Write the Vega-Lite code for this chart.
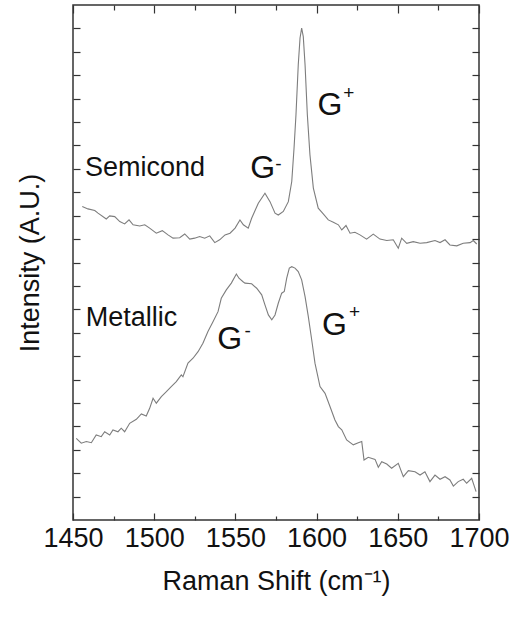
{
  "$schema": "https://vega.github.io/schema/vega-lite/v6.json",
  "width": 406,
  "height": 515,
  "autosize": "none",
  "padding": {"left": 73, "top": 5, "right": 34, "bottom": 98},
  "background": "white",
  "config": {
    "view": {"stroke": "#333333", "strokeWidth": 1.5},
    "axis": {
      "domain": false,
      "grid": false,
      "tickColor": "#333333",
      "tickWidth": 1.2,
      "labelFont": "Liberation Sans",
      "titleFont": "Liberation Sans",
      "labelColor": "#111111",
      "titleColor": "#111111",
      "titleFontWeight": "normal",
      "labelFlush": false,
      "labelOverlap": false
    },
    "text": {"font": "Liberation Sans", "color": "#111111"}
  },
  "datasets": {
    "spectra": [
      {"series": "Semicond", "shift": 1455.7, "intensity": 13.39},
      {"series": "Semicond", "shift": 1459.2, "intensity": 13.29},
      {"series": "Semicond", "shift": 1463.4, "intensity": 13.22},
      {"series": "Semicond", "shift": 1465.4, "intensity": 13.11},
      {"series": "Semicond", "shift": 1470.5, "intensity": 12.86},
      {"series": "Semicond", "shift": 1472.6, "intensity": 12.99},
      {"series": "Semicond", "shift": 1475.7, "intensity": 12.96},
      {"series": "Semicond", "shift": 1478.8, "intensity": 12.75},
      {"series": "Semicond", "shift": 1481.8, "intensity": 12.65},
      {"series": "Semicond", "shift": 1484.5, "intensity": 12.82},
      {"series": "Semicond", "shift": 1487.0, "intensity": 12.61},
      {"series": "Semicond", "shift": 1491.1, "intensity": 12.56},
      {"series": "Semicond", "shift": 1494.2, "intensity": 12.61},
      {"series": "Semicond", "shift": 1497.2, "intensity": 12.47},
      {"series": "Semicond", "shift": 1501.3, "intensity": 12.25},
      {"series": "Semicond", "shift": 1505.0, "intensity": 12.36},
      {"series": "Semicond", "shift": 1508.5, "intensity": 12.18},
      {"series": "Semicond", "shift": 1511.6, "intensity": 12.04},
      {"series": "Semicond", "shift": 1515.7, "intensity": 12.06},
      {"series": "Semicond", "shift": 1518.8, "intensity": 12.22},
      {"series": "Semicond", "shift": 1521.9, "intensity": 12.0},
      {"series": "Semicond", "shift": 1524.9, "intensity": 12.04},
      {"series": "Semicond", "shift": 1528.0, "intensity": 12.11},
      {"series": "Semicond", "shift": 1531.1, "intensity": 12.04},
      {"series": "Semicond", "shift": 1534.2, "intensity": 12.14},
      {"series": "Semicond", "shift": 1537.3, "intensity": 11.85},
      {"series": "Semicond", "shift": 1540.3, "intensity": 11.97},
      {"series": "Semicond", "shift": 1543.6, "intensity": 12.18},
      {"series": "Semicond", "shift": 1546.7, "intensity": 12.25},
      {"series": "Semicond", "shift": 1549.8, "intensity": 12.47},
      {"series": "Semicond", "shift": 1552.8, "intensity": 12.82},
      {"series": "Semicond", "shift": 1554.9, "intensity": 12.61},
      {"series": "Semicond", "shift": 1557.9, "intensity": 12.47},
      {"series": "Semicond", "shift": 1560.0, "intensity": 12.89},
      {"series": "Semicond", "shift": 1564.1, "intensity": 13.53},
      {"series": "Semicond", "shift": 1568.2, "intensity": 13.96},
      {"series": "Semicond", "shift": 1571.3, "intensity": 13.6},
      {"series": "Semicond", "shift": 1574.4, "intensity": 13.11},
      {"series": "Semicond", "shift": 1576.4, "intensity": 13.03},
      {"series": "Semicond", "shift": 1579.5, "intensity": 13.18},
      {"series": "Semicond", "shift": 1582.6, "intensity": 13.6},
      {"series": "Semicond", "shift": 1584.7, "intensity": 14.46},
      {"series": "Semicond", "shift": 1586.1, "intensity": 15.88},
      {"series": "Semicond", "shift": 1587.3, "intensity": 17.31},
      {"series": "Semicond", "shift": 1588.7, "intensity": 19.44},
      {"series": "Semicond", "shift": 1589.8, "intensity": 20.59},
      {"series": "Semicond", "shift": 1590.8, "intensity": 21.01},
      {"series": "Semicond", "shift": 1591.8, "intensity": 20.65},
      {"series": "Semicond", "shift": 1592.9, "intensity": 19.44},
      {"series": "Semicond", "shift": 1594.3, "intensity": 17.31},
      {"series": "Semicond", "shift": 1595.9, "intensity": 15.6},
      {"series": "Semicond", "shift": 1598.0, "intensity": 14.18},
      {"series": "Semicond", "shift": 1601.0, "intensity": 13.32},
      {"series": "Semicond", "shift": 1604.1, "intensity": 13.08},
      {"series": "Semicond", "shift": 1607.2, "intensity": 12.82},
      {"series": "Semicond", "shift": 1610.3, "intensity": 12.72},
      {"series": "Semicond", "shift": 1613.4, "intensity": 12.61},
      {"series": "Semicond", "shift": 1615.5, "intensity": 12.39},
      {"series": "Semicond", "shift": 1618.1, "intensity": 12.58},
      {"series": "Semicond", "shift": 1620.6, "intensity": 12.25},
      {"series": "Semicond", "shift": 1623.6, "intensity": 12.29},
      {"series": "Semicond", "shift": 1626.7, "intensity": 12.18},
      {"series": "Semicond", "shift": 1630.8, "intensity": 12.0},
      {"series": "Semicond", "shift": 1634.9, "intensity": 12.21},
      {"series": "Semicond", "shift": 1639.0, "intensity": 12.0},
      {"series": "Semicond", "shift": 1643.2, "intensity": 11.94},
      {"series": "Semicond", "shift": 1647.2, "intensity": 11.97},
      {"series": "Semicond", "shift": 1650.3, "intensity": 11.61},
      {"series": "Semicond", "shift": 1652.4, "intensity": 12.04},
      {"series": "Semicond", "shift": 1655.5, "intensity": 11.82},
      {"series": "Semicond", "shift": 1659.5, "intensity": 11.89},
      {"series": "Semicond", "shift": 1663.7, "intensity": 11.82},
      {"series": "Semicond", "shift": 1667.8, "intensity": 11.85},
      {"series": "Semicond", "shift": 1672.9, "intensity": 11.94},
      {"series": "Semicond", "shift": 1676.0, "intensity": 11.85},
      {"series": "Semicond", "shift": 1679.1, "intensity": 11.97},
      {"series": "Semicond", "shift": 1682.1, "intensity": 11.75},
      {"series": "Semicond", "shift": 1686.3, "intensity": 11.71},
      {"series": "Semicond", "shift": 1690.3, "intensity": 11.82},
      {"series": "Semicond", "shift": 1694.5, "intensity": 11.85},
      {"series": "Semicond", "shift": 1696.5, "intensity": 11.94},
      {"series": "Semicond", "shift": 1698.6, "intensity": 11.79},
      {"series": "Metallic", "shift": 1452.0, "intensity": 3.49},
      {"series": "Metallic", "shift": 1455.1, "intensity": 3.28},
      {"series": "Metallic", "shift": 1458.2, "intensity": 3.35},
      {"series": "Metallic", "shift": 1461.3, "intensity": 3.30},
      {"series": "Metallic", "shift": 1464.3, "intensity": 3.63},
      {"series": "Metallic", "shift": 1467.4, "intensity": 3.56},
      {"series": "Metallic", "shift": 1469.5, "intensity": 3.77},
      {"series": "Metallic", "shift": 1472.6, "intensity": 3.63},
      {"series": "Metallic", "shift": 1474.6, "intensity": 3.85},
      {"series": "Metallic", "shift": 1477.7, "intensity": 3.77},
      {"series": "Metallic", "shift": 1479.7, "intensity": 3.92},
      {"series": "Metallic", "shift": 1481.8, "intensity": 3.77},
      {"series": "Metallic", "shift": 1484.9, "intensity": 4.13},
      {"series": "Metallic", "shift": 1489.0, "intensity": 4.30},
      {"series": "Metallic", "shift": 1492.1, "intensity": 4.53},
      {"series": "Metallic", "shift": 1495.1, "intensity": 4.44},
      {"series": "Metallic", "shift": 1497.2, "intensity": 4.77},
      {"series": "Metallic", "shift": 1499.3, "intensity": 5.2},
      {"series": "Metallic", "shift": 1501.3, "intensity": 4.99},
      {"series": "Metallic", "shift": 1504.4, "intensity": 5.27},
      {"series": "Metallic", "shift": 1507.5, "intensity": 5.48},
      {"series": "Metallic", "shift": 1510.5, "intensity": 5.70},
      {"series": "Metallic", "shift": 1513.6, "intensity": 5.91},
      {"series": "Metallic", "shift": 1516.7, "intensity": 6.2},
      {"series": "Metallic", "shift": 1517.7, "intensity": 6.12},
      {"series": "Metallic", "shift": 1520.8, "intensity": 6.70},
      {"series": "Metallic", "shift": 1523.9, "intensity": 6.91},
      {"series": "Metallic", "shift": 1527.0, "intensity": 7.19},
      {"series": "Metallic", "shift": 1530.0, "intensity": 7.55},
      {"series": "Metallic", "shift": 1533.1, "intensity": 8.05},
      {"series": "Metallic", "shift": 1536.2, "intensity": 8.47},
      {"series": "Metallic", "shift": 1539.3, "intensity": 8.90},
      {"series": "Metallic", "shift": 1541.3, "intensity": 9.47},
      {"series": "Metallic", "shift": 1544.4, "intensity": 9.83},
      {"series": "Metallic", "shift": 1547.5, "intensity": 10.12},
      {"series": "Metallic", "shift": 1550.6, "intensity": 10.51},
      {"series": "Metallic", "shift": 1552.2, "intensity": 10.33},
      {"series": "Metallic", "shift": 1554.7, "intensity": 10.18},
      {"series": "Metallic", "shift": 1555.9, "intensity": 10.12},
      {"series": "Metallic", "shift": 1560.0, "intensity": 10.09},
      {"series": "Metallic", "shift": 1563.1, "intensity": 9.90},
      {"series": "Metallic", "shift": 1566.2, "intensity": 9.62},
      {"series": "Metallic", "shift": 1568.2, "intensity": 9.19},
      {"series": "Metallic", "shift": 1570.3, "intensity": 8.76},
      {"series": "Metallic", "shift": 1572.4, "intensity": 8.55},
      {"series": "Metallic", "shift": 1574.4, "intensity": 8.76},
      {"series": "Metallic", "shift": 1576.4, "intensity": 9.26},
      {"series": "Metallic", "shift": 1578.5, "intensity": 9.69},
      {"series": "Metallic", "shift": 1580.1, "intensity": 9.76},
      {"series": "Metallic", "shift": 1581.6, "intensity": 10.33},
      {"series": "Metallic", "shift": 1583.2, "intensity": 10.76},
      {"series": "Metallic", "shift": 1584.7, "intensity": 10.82},
      {"series": "Metallic", "shift": 1586.7, "intensity": 10.76},
      {"series": "Metallic", "shift": 1588.7, "intensity": 10.61},
      {"series": "Metallic", "shift": 1590.8, "intensity": 10.26},
      {"series": "Metallic", "shift": 1592.9, "intensity": 9.54},
      {"series": "Metallic", "shift": 1594.9, "intensity": 8.69},
      {"series": "Metallic", "shift": 1597.0, "intensity": 7.69},
      {"series": "Metallic", "shift": 1599.0, "intensity": 6.70},
      {"series": "Metallic", "shift": 1602.1, "intensity": 5.70},
      {"series": "Metallic", "shift": 1605.2, "intensity": 5.41},
      {"series": "Metallic", "shift": 1608.3, "intensity": 4.84},
      {"series": "Metallic", "shift": 1611.3, "intensity": 4.27},
      {"series": "Metallic", "shift": 1613.4, "intensity": 3.99},
      {"series": "Metallic", "shift": 1615.5, "intensity": 3.85},
      {"series": "Metallic", "shift": 1618.5, "intensity": 3.42},
      {"series": "Metallic", "shift": 1622.6, "intensity": 3.21},
      {"series": "Metallic", "shift": 1625.7, "intensity": 3.30},
      {"series": "Metallic", "shift": 1627.8, "intensity": 3.35},
      {"series": "Metallic", "shift": 1629.2, "intensity": 2.56},
      {"series": "Metallic", "shift": 1631.8, "intensity": 2.68},
      {"series": "Metallic", "shift": 1636.0, "intensity": 2.59},
      {"series": "Metallic", "shift": 1638.0, "intensity": 2.25},
      {"series": "Metallic", "shift": 1640.1, "intensity": 2.49},
      {"series": "Metallic", "shift": 1643.2, "intensity": 2.39},
      {"series": "Metallic", "shift": 1646.2, "intensity": 2.21},
      {"series": "Metallic", "shift": 1650.3, "intensity": 2.42},
      {"series": "Metallic", "shift": 1653.4, "intensity": 1.85},
      {"series": "Metallic", "shift": 1656.5, "intensity": 2.11},
      {"series": "Metallic", "shift": 1660.6, "intensity": 2.06},
      {"series": "Metallic", "shift": 1663.7, "intensity": 1.92},
      {"series": "Metallic", "shift": 1666.7, "intensity": 2.06},
      {"series": "Metallic", "shift": 1669.8, "intensity": 1.64},
      {"series": "Metallic", "shift": 1672.9, "intensity": 1.92},
      {"series": "Metallic", "shift": 1676.0, "intensity": 1.74},
      {"series": "Metallic", "shift": 1679.1, "intensity": 1.85},
      {"series": "Metallic", "shift": 1682.1, "intensity": 1.71},
      {"series": "Metallic", "shift": 1684.2, "intensity": 1.45},
      {"series": "Metallic", "shift": 1687.2, "intensity": 1.64},
      {"series": "Metallic", "shift": 1690.3, "intensity": 1.74},
      {"series": "Metallic", "shift": 1692.4, "intensity": 1.57},
      {"series": "Metallic", "shift": 1695.5, "intensity": 1.78},
      {"series": "Metallic", "shift": 1698.2, "intensity": 1.21}
    ],
    "labels": [
      {"text": "Semicond", "kind": "name", "shift": 1457.4, "intensity": 14.70},
      {"text": "Metallic", "kind": "name", "shift": 1457.8, "intensity": 8.30},
      {"text": "G", "kind": "peak", "shift": 1559.2, "intensity": 14.60},
      {"text": "G", "kind": "peak", "shift": 1600.5, "intensity": 17.31},
      {"text": "G", "kind": "peak", "shift": 1538.9, "intensity": 7.31},
      {"text": "G", "kind": "peak", "shift": 1603.4, "intensity": 7.91},
      {"text": "-", "kind": "sup", "shift": 1574.6, "intensity": 14.96},
      {"text": "+", "kind": "sup", "shift": 1616.4, "intensity": 17.99},
      {"text": "-", "kind": "sup", "shift": 1555.6, "intensity": 7.82},
      {"text": "+", "kind": "sup", "shift": 1620.0, "intensity": 8.63}
    ]
  },
  "resolve": {"axis": {"x": "independent", "y": "independent"}},
  "layer": [
    {
      "data": {"name": "spectra"},
      "mark": {"type": "line", "color": "#7d7d7d", "strokeWidth": 1.1},
      "encoding": {
        "x": {
          "field": "shift", "type": "quantitative",
          "scale": {"domain": [1450, 1700], "nice": false, "zero": false},
          "axis": {
            "orient": "bottom",
            "values": [1450, 1500, 1550, 1600, 1650, 1700],
            "format": "d",
            "tickSize": -7,
            "labelFontSize": 27,
            "labelPadding": 12,
            "title": "Raman Shift (cm⁻¹)",
            "titleFontSize": 27,
            "titlePadding": 17
          }
        },
        "y": {
          "field": "intensity", "type": "quantitative",
          "scale": {"domain": [0, 22], "nice": false, "zero": false},
          "axis": {
            "orient": "left",
            "values": [1, 2, 3, 4, 5, 6, 7, 8, 9, 10, 11, 12, 13, 14, 15, 16, 17, 18, 19, 20, 21],
            "tickSize": -7,
            "labels": false,
            "title": "Intensity (A.U.)",
            "titleFontSize": 27,
            "titlePadding": 28
          }
        },
        "detail": {"field": "series"}
      }
    },
    {
      "data": {"name": "labels"},
      "transform": [{"filter": "datum.kind === 'name'"}],
      "mark": {"type": "text", "fontSize": 27, "align": "left", "baseline": "alphabetic"},
      "encoding": {
        "x": {
          "field": "shift", "type": "quantitative",
          "axis": {"orient": "top", "values": [1450, 1500, 1550, 1600, 1650, 1700], "tickSize": -8, "labels": false, "title": null}
        },
        "y": {
          "field": "intensity", "type": "quantitative",
          "axis": {"orient": "right", "values": [1, 2, 3, 4, 5, 6, 7, 8, 9, 10, 11, 12, 13, 14, 15, 16, 17, 18, 19, 20, 21], "tickSize": -7, "labels": false, "title": null}
        },
        "text": {"field": "text"}
      }
    },
    {
      "data": {"name": "labels"},
      "transform": [{"filter": "datum.kind === 'peak'"}],
      "mark": {"type": "text", "fontSize": 32, "align": "left", "baseline": "alphabetic"},
      "encoding": {
        "x": {
          "field": "shift", "type": "quantitative",
          "axis": {"orient": "bottom", "values": [1475, 1525, 1575, 1625, 1675], "tickSize": -4, "labels": false, "title": null}
        },
        "y": {"field": "intensity", "type": "quantitative", "axis": null},
        "text": {"field": "text"}
      }
    },
    {
      "data": {"name": "labels"},
      "transform": [{"filter": "datum.kind === 'sup'"}],
      "mark": {"type": "text", "fontSize": 19, "align": "left", "baseline": "alphabetic"},
      "encoding": {
        "x": {
          "field": "shift", "type": "quantitative",
          "axis": {"orient": "top", "values": [1475, 1525, 1575, 1625, 1675], "tickSize": -5, "labels": false, "title": null}
        },
        "y": {"field": "intensity", "type": "quantitative", "axis": null},
        "text": {"field": "text"}
      }
    }
  ]
}
